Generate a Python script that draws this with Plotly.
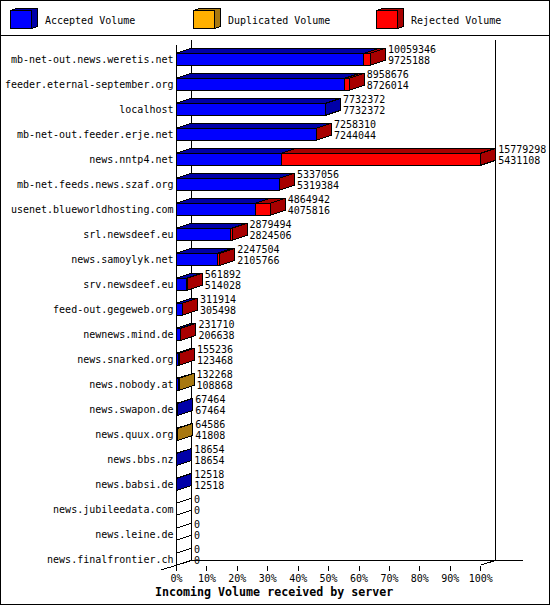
import plotly.graph_objects as go

servers = ["mb-net-out.news.weretis.net", "feeder.eternal-september.org", "localhost",
           "mb-net-out.feeder.erje.net", "news.nntp4.net", "mb-net.feeds.news.szaf.org",
           "usenet.blueworldhosting.com", "srl.newsdeef.eu", "news.samoylyk.net",
           "srv.newsdeef.eu", "feed-out.gegeweb.org", "newnews.mind.de", "news.snarked.org",
           "news.nobody.at", "news.swapon.de", "news.quux.org", "news.bbs.nz", "news.babsi.de",
           "news.jubileedata.com", "news.leine.de", "news.finalfrontier.ch"]
total = [10059346, 8958676, 7732372, 7258310, 15779298, 5337056, 4864942, 2879494, 2247504,
         561892, 311914, 231710, 155236, 132268, 67464, 64586, 18654, 12518, 0, 0, 0]
accepted = [9725188, 8726014, 7732372, 7244044, 5431108, 5319384, 4075816, 2824506, 2105766,
            514028, 305498, 206638, 123468, 108868, 67464, 41808, 18654, 12518, 0, 0, 0]
duplicated = [0, 0, 0, 0, 0, 0, 0, 0, 0, 0, 0, 0, 0, 23400, 0, 22778, 0, 0, 0, 0, 0]
rejected = [334158, 232662, 0, 14266, 10348190, 17672, 789126, 54988, 141738, 47864, 6416,
            25072, 31768, 0, 0, 0, 0, 0, 0, 0, 0]
pct_ticks = [0, 10, 20, 30, 40, 50, 60, 70, 80, 90, 100]

W, H = 550, 605
X0, PX_PER_PCT = 176.5, 3.042
Y0, ROW = 59.3, 25.0
DX, DY = 15 / PX_PER_PCT, -5 / ROW
BAR = 12 / ROW
MAXV = max(total)
MONO = "DejaVu Sans Mono"
FRONT = {"a": "#0000ff", "d": "#ffb000", "r": "#ff0000"}
DARK = {"a": "#0000a8", "d": "#a87810", "r": "#a80000"}

pct = lambda v: v / MAXV * 100
rows = list(range(len(servers)))

fig = go.Figure()
for name, vals, key in [("Accepted Volume", accepted, "a"), ("Duplicated Volume", duplicated, "d"),
                        ("Rejected Volume", rejected, "r")]:
    fig.add_trace(go.Bar(y=rows, x=[pct(v) for v in vals], orientation="h", width=BAR, name=name,
                         marker=dict(color=FRONT[key], line=dict(color="black", width=1)),
                         hoverinfo="skip"))

polys = {k: ([], []) for k in ("a", "d", "r", "w")}
def add_poly(key, xs, ys):
    polys[key][0].extend(xs + [xs[0], None])
    polys[key][1].extend(ys + [ys[0], None])

for i in rows:
    top, bot = i - BAR / 2, i + BAR / 2
    start = 0.0
    last = "w"
    for key, vals in (("a", accepted), ("d", duplicated), ("r", rejected)):
        if vals[i] > 0:
            end = start + pct(vals[i])
            add_poly(key, [start, start + DX, end + DX, end], [top, top + DY, top + DY, top])
            start = end
            last = key
    add_poly(last, [start, start + DX, start + DX, start],
             [top, top + DY, bot + DY, bot])

for key, (xs, ys) in polys.items():
    fig.add_trace(go.Scatter(x=xs, y=ys, mode="lines", fill="toself",
                             fillcolor=DARK.get(key, "white"),
                             line=dict(color="black", width=1), hoverinfo="skip"))

label_x = [pct(v) + DX + 2.5 / PX_PER_PCT for v in total]
for vals, off in ((total, -9 / ROW), (accepted, 2 / ROW)):
    fig.add_trace(go.Scatter(x=label_x, y=[i + off for i in rows], mode="text",
                             text=[str(v) for v in vals], textposition="middle right",
                             textfont=dict(family=MONO, size=10, color="black"), hoverinfo="skip"))

fx = lambda px: px / W
fy = lambda py: 1 - py / H
def line(x0, y0, x1, y1):
    return dict(type="line", xref="paper", yref="paper", x0=fx(x0), y0=fy(y0), x1=fx(x1), y1=fy(y1),
                line=dict(color="black", width=1), layer="below")

shapes = [line(191.5, 40, 191.5, 560.5), line(176.5, 45, 176.5, 565), line(495.5, 40, 495.5, 560.5),
          line(191.5, 560.5, 522.5, 560.5), line(161, 570, 191.5, 560.5), line(480.7, 565, 495.5, 560.5),
          line(0, 35.5, W, 35.5),
          dict(type="rect", xref="paper", yref="paper", x0=fx(0.5), y0=fy(0.5), x1=fx(549.5), y1=fy(604.5),
               line=dict(color="black", width=1), layer="below")]

annotations = []
for left, tx, key, label in [(10.5, 42.5, "a", "Accepted Volume"), (193.5, 225.5, "d", "Duplicated Volume"),
                             (376.5, 408.5, "r", "Rejected Volume")]:
    r = left + 21
    shapes.append(dict(type="rect", xref="paper", yref="paper", x0=fx(left), y0=fy(10.5), x1=fx(r), y1=fy(28.5),
                       fillcolor=FRONT[key], line=dict(color="black", width=1)))
    pts = [(left, 10.5), (left + 6, 8.5), (r + 6, 8.5), (r + 6, 26.5), (r, 28.5), (r, 10.5)]
    path = "M" + " L".join(f"{fx(a)},{fy(b)}" for a, b in pts) + " Z"
    shapes.append(dict(type="path", xref="paper", yref="paper", path=path, fillcolor=DARK[key],
                       line=dict(color="black", width=1)))
    annotations.append(dict(xref="paper", yref="paper", x=fx(tx), y=fy(20), text=label, showarrow=False,
                            xanchor="left", yanchor="middle",
                            font=dict(family=MONO, size=10, color="black")))
annotations.append(dict(xref="paper", yref="paper", x=fx(274), y=fy(592), showarrow=False,
                        text="<b>Incoming Volume received by server</b>", xanchor="center", yanchor="middle",
                        font=dict(family=MONO, size=11.65, color="black")))

fig.update_layout(
    width=W, height=H, margin=dict(l=0, r=0, t=0, b=0), autosize=False,
    barmode="stack", showlegend=False, paper_bgcolor="white", plot_bgcolor="white",
    shapes=shapes, annotations=annotations,
    xaxis=dict(range=[-X0 / PX_PER_PCT, (W - X0) / PX_PER_PCT], domain=[0, 1], anchor="free",
               position=fy(565), side="bottom", tickvals=pct_ticks, ticktext=[f"{t}%" for t in pct_ticks],
               ticks="outside", ticklen=5, tickcolor="black", tickwidth=1, showgrid=False, zeroline=False,
               showline=False, ticklabelstandoff=-1, tickfont=dict(family=MONO, size=10, color="black")),
    yaxis=dict(range=[(H - Y0) / ROW, -Y0 / ROW], domain=[0, 1], anchor="free", position=X0 / W,
               side="left", tickvals=rows, ticktext=servers, ticks="", ticklabelstandoff=3, showgrid=False,
               zeroline=False, showline=False, tickfont=dict(family=MONO, size=10, color="black")),
)

fig.write_html("out.html", config={"displayModeBar": False},
               post_script="document.body.style.margin='0';document.body.style.overflow='hidden';"
                           "var s=document.createElement('style');"
                           "s.textContent='svg path{shape-rendering:crispEdges !important}';"
                           "document.head.appendChild(s);")
